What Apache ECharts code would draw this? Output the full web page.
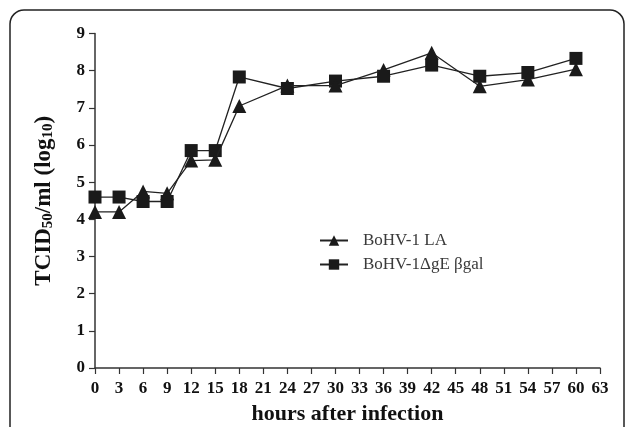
<!DOCTYPE html>
<html><head><meta charset="utf-8">
<script src="https://cdn.jsdelivr.net/npm/echarts@6/dist/echarts.min.js"></script>
<style>html,body{margin:0;padding:0;background:#fff}#c{width:627px;height:427px}</style>
</head><body><div id="c"></div>
<script>
var hours = [0,3,6,9,12,15,18,24,30,36,42,48,54,60];
var laValues = [4.2,4.2,4.75,4.7,5.58,5.6,7.05,7.6,7.6,8.02,8.48,7.58,7.76,8.04];
var geValues = [4.6,4.6,4.48,4.48,5.85,5.85,7.83,7.52,7.72,7.85,8.15,7.85,7.95,8.33];
var seriesNames = ['BoHV-1 LA', 'BoHV-1\u0394gE \u03b2gal'];

var chart = echarts.init(document.getElementById('c'));
var font = 'Liberation Serif, Times New Roman, serif';
function pairs(v){ return hours.map(function(h,i){ return [h, v[i]]; }); }
chart.setOption({
  animation:false,
  backgroundColor:'#fff',
  graphic:[{type:'rect', shape:{x:10,y:10,width:614,height:460,r:14}, style:{fill:'none', stroke:'#222', lineWidth:1.5}, z:-1}],
  grid:{left:95, right:27, top:33.5, bottom:59, containLabel:false, outerBoundsMode:'none'},
  legend:{
    left:314, top:227, orient:'vertical', itemGap:7, itemWidth:28, itemHeight:13,
    textStyle:{fontFamily:font, fontSize:17, color:'#3a3a3a', padding:[0,0,0,10]},
    data:seriesNames
  },
  xAxis:{
    type:'value', min:0, max:63, interval:3,
    name:'hours after infection', nameLocation:'middle', nameGap:35,
    nameTextStyle:{fontFamily:font, fontSize:22, fontWeight:'bold', color:'#111'},
    axisLine:{lineStyle:{color:'#333', width:1.5}},
    axisTick:{length:6, lineStyle:{color:'#333', width:1.2}},
    axisLabel:{fontFamily:font, fontSize:17, fontWeight:'bold', color:'#111', margin:12},
    splitLine:{show:false}
  },
  yAxis:{
    type:'value', min:0, max:9, interval:1,
    name:'{a|TCID}{s|50}{a|/ml (log}{s|10}{a|)}', nameLocation:'middle', nameGap:39, nameRotate:90,
    nameTextStyle:{rich:{
      a:{fontFamily:font, fontSize:23, fontWeight:'bold', color:'#111'},
      s:{fontFamily:font, fontSize:15, fontWeight:'bold', color:'#111', verticalAlign:'bottom', padding:[9,0,0,0]}
    }},
    axisLine:{show:true, lineStyle:{color:'#333', width:1.5}},
    axisTick:{show:true, length:6, lineStyle:{color:'#333', width:1.2}},
    axisLabel:{fontFamily:font, fontSize:17, fontWeight:'bold', color:'#111', margin:10},
    splitLine:{show:false}
  },
  series:[
    {name:seriesNames[0], type:'line', data:pairs(laValues), symbol:'triangle', symbolSize:14,
     itemStyle:{color:'#1a1a1a'}, lineStyle:{color:'#222', width:1.3}, z:3},
    {name:seriesNames[1], type:'line', data:pairs(geValues), symbol:'rect', symbolSize:13,
     itemStyle:{color:'#1a1a1a'}, lineStyle:{color:'#222', width:1.3}, z:2}
  ]
});
</script></body></html>
